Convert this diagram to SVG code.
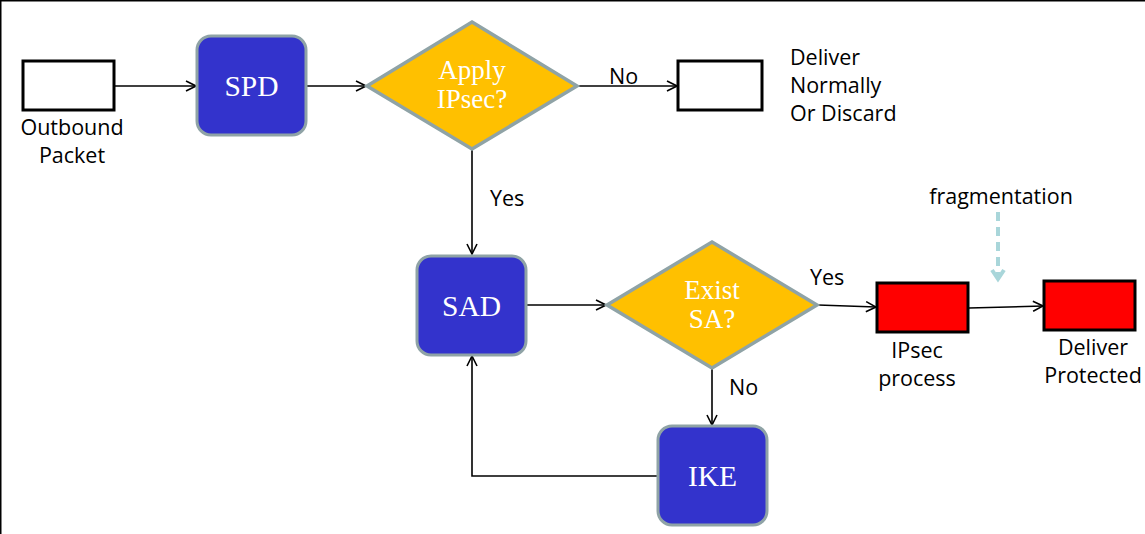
<svg xmlns="http://www.w3.org/2000/svg" width="1145" height="534" viewBox="0 0 1145 534">
<style>
.proc{fill:#3333CC;stroke:#8FA3A6;stroke-width:3}
.dec{fill:#FFC000;stroke:#8FA3A6;stroke-width:3.5}
.pkt{fill:#FFFFFF;stroke:#000;stroke-width:3}
.red{fill:#FF0000;stroke:#000;stroke-width:3}
.nt{font-family:"Liberation Serif","DejaVu Serif",serif;font-size:29.5px;fill:#FFFFFF;text-anchor:middle}
.dt{font-size:27px}
.lb{font-family:"Open Sans","Noto Sans",sans-serif;font-size:21.5px;fill:#000}
.c{text-anchor:middle}
.ln{fill:none;stroke:#000;stroke-width:1.6}
</style>
<defs>
<marker id="ah" viewBox="0 0 12 12" refX="11" refY="6" markerWidth="12" markerHeight="12" markerUnits="userSpaceOnUse" orient="auto">
<polyline points="1,1 11,6 1,11" fill="none" stroke="#000" stroke-width="1.6"/>
</marker>
<marker id="ahf" viewBox="0 0 16 16" refX="12" refY="8" markerWidth="16" markerHeight="16" markerUnits="userSpaceOnUse" orient="auto">
<polyline points="3,2 12,8 3,14" fill="none" stroke="#A9D6DA" stroke-width="4"/>
</marker>
</defs>
<rect x="0" y="0" width="1145" height="534" fill="#FFFFFF"/>
<line x1="0.75" y1="0" x2="0.75" y2="534" stroke="#000" stroke-width="1.5"/>
<line x1="0" y1="0.75" x2="1145" y2="0.75" stroke="#000" stroke-width="1.5"/>

<g id="connectors">
<line class="ln" x1="115" y1="86" x2="196" y2="86" marker-end="url(#ah)"/>
<line class="ln" x1="307" y1="86" x2="366" y2="86" marker-end="url(#ah)"/>
<line class="ln" x1="578" y1="86" x2="677" y2="86" marker-end="url(#ah)"/>
<line class="ln" x1="472" y1="150" x2="472" y2="254" marker-end="url(#ah)"/>
<line class="ln" x1="527" y1="305" x2="606" y2="305" marker-end="url(#ah)"/>
<line class="ln" x1="818" y1="305" x2="876" y2="307" marker-end="url(#ah)"/>
<line class="ln" x1="969" y1="308" x2="1043" y2="306" marker-end="url(#ah)"/>
<line class="ln" x1="712" y1="369" x2="712" y2="425" marker-end="url(#ah)"/>
<polyline class="ln" points="658,476 472,476 472,356" marker-end="url(#ah)"/>
<line x1="998" y1="212" x2="998" y2="279" stroke="#A9D6DA" stroke-width="4" stroke-dasharray="9,6" marker-end="url(#ahf)"/>
<text class="lb" x="609" y="84">No</text>
<text class="lb" x="490" y="206">Yes</text>
<text class="lb" x="810" y="285">Yes</text>
<text class="lb" x="729" y="395">No</text>
<text class="lb c" x="1001" y="204">fragmentation</text>
</g>

<g id="outbound">
<rect class="pkt" x="23" y="61" width="91" height="49"/>
<text class="lb c" x="72" y="135">Outbound</text>
<text class="lb c" x="72" y="163">Packet</text>
</g>
<g id="spd">
<rect class="proc" x="197" y="36" width="109" height="99" rx="14"/>
<text class="nt" x="251.5" y="96">SPD</text>
</g>
<g id="apply">
<polygon class="dec" points="472,22 577,86 472,149 367,86"/>
<text class="nt dt" x="472" y="79">Apply</text>
<text class="nt dt" x="472" y="108">IPsec?</text>
</g>
<g id="normal">
<rect class="pkt" x="678" y="61" width="84" height="49"/>
<text class="lb" x="790" y="65">Deliver</text>
<text class="lb" x="790" y="93">Normally</text>
<text class="lb" x="790" y="121">Or Discard</text>
</g>
<g id="sad">
<rect class="proc" x="417" y="256" width="109" height="99" rx="14"/>
<text class="nt" x="471.5" y="316">SAD</text>
</g>
<g id="exist">
<polygon class="dec" points="712,242 817,305 712,368 607,305"/>
<text class="nt dt" x="712" y="299">Exist</text>
<text class="nt dt" x="712" y="328">SA?</text>
</g>
<g id="ipsec">
<rect class="red" x="877" y="283" width="91" height="49"/>
<text class="lb c" x="917" y="358">IPsec</text>
<text class="lb c" x="917" y="386">process</text>
</g>
<g id="protected">
<rect class="red" x="1044" y="281" width="91" height="49"/>
<text class="lb c" x="1093" y="355">Deliver</text>
<text class="lb c" x="1093" y="383">Protected</text>
</g>
<g id="ike">
<rect class="proc" x="658" y="426" width="109" height="99" rx="14"/>
<text class="nt" x="712.5" y="486">IKE</text>
</g>
</svg>
